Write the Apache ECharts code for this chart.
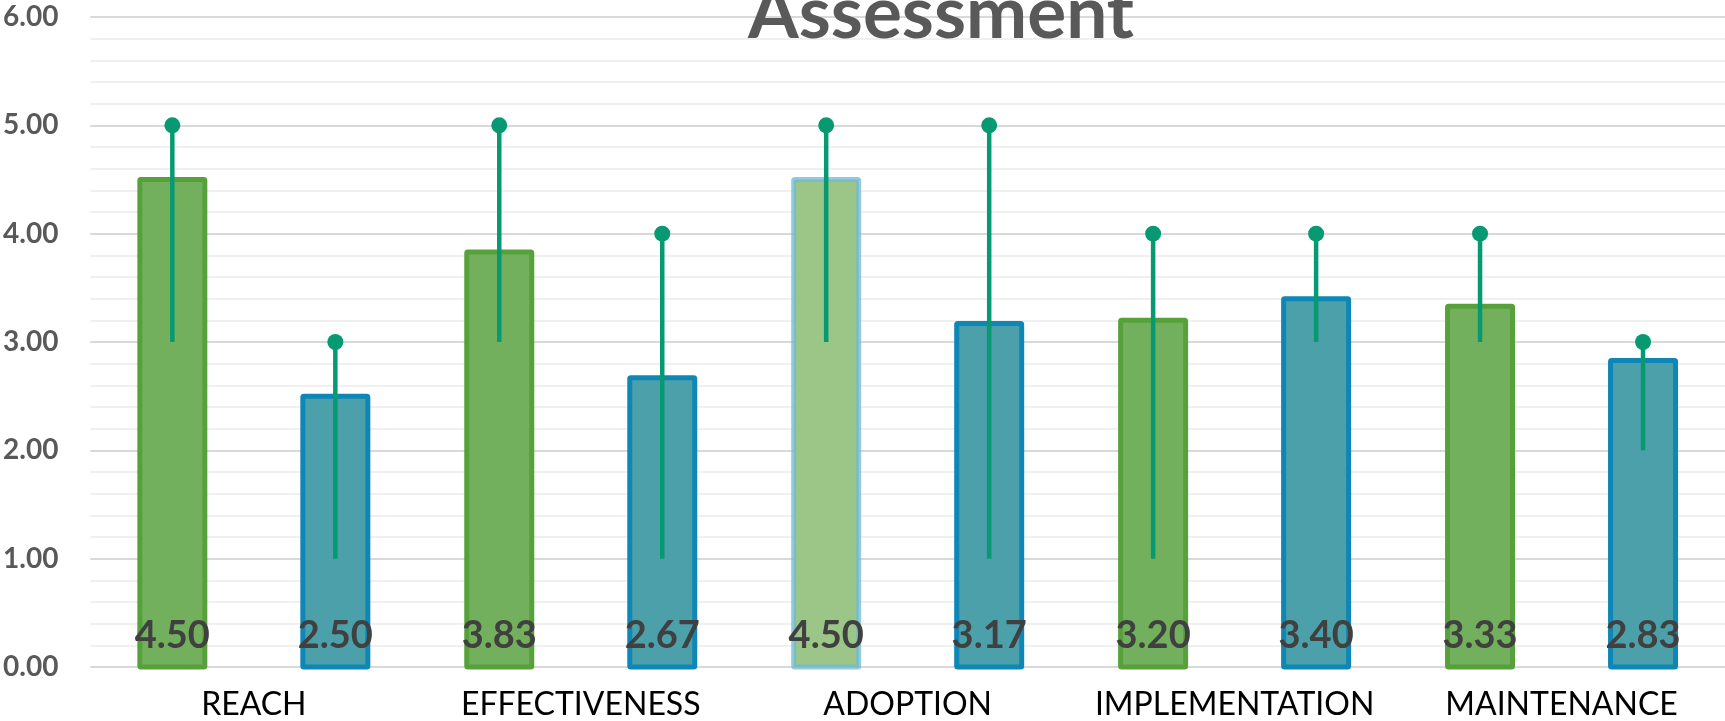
<!DOCTYPE html>
<html>
<head>
<meta charset="utf-8">
<title>Assessment</title>
<script src="https://cdn.jsdelivr.net/npm/echarts@6/dist/echarts.min.js"></script>
<style>
  html, body { margin: 0; padding: 0; background: #ffffff; }
  #chart { width: 1725px; height: 721px; }
</style>
</head>
<body>
<div id="chart"></div>
<script>
// Dimension scores (mean) with min / max range for two groups
const categories = ['REACH', 'EFFECTIVENESS', 'ADOPTION', 'IMPLEMENTATION', 'MAINTENANCE'];
const groupAMeans = [4.50, 3.83, 4.50, 3.20, 3.33];
const groupBMeans = [2.50, 2.67, 3.17, 3.40, 2.83];
const groupALow  = [3, 3, 3, 1, 3];
const groupAHigh = [5, 5, 5, 4, 4];
const groupBLow  = [1, 1, 1, 3, 2];
const groupBHigh = [3, 4, 5, 4, 3];
const yTicks = [0, 1, 2, 3, 4, 5, 6];

const FONT = 'Lato, "Open Sans", sans-serif';
const BAR_W = 70;          // outer width of a bar, border included
const BORDER_W = 5;
const HALF_OFFSET = 81.5;  // distance from category centre to each bar centre

const STYLE_A = { fill: '#73b05d', stroke: '#57a13b' };
const STYLE_A_SELECTED = { fill: '#9bc687', stroke: 'rgba(110,185,215,0.75)' };
const STYLE_B = { fill: '#4ba0aa', stroke: '#0f87b6' };

const chart = echarts.init(document.getElementById('chart'), null, { renderer: 'canvas' });

// Bars with a centred border, plus the value written near the base
function barSeries(name, means, side, styleFor) {
  return {
    name: name,
    type: 'custom',
    z: 2,
    data: means.map((v, i) => [i, v]),
    renderItem: function (params, api) {
      const i = api.value(0);
      const v = api.value(1);
      const base = api.coord([i, 0]);
      const top = api.coord([i, v]);
      const cx = base[0] + side * HALF_OFFSET;
      const w = BAR_W - BORDER_W;
      const st = styleFor(params.dataIndex);
      return {
        type: 'group',
        children: [
          {
            type: 'rect',
            shape: { x: cx - w / 2, y: top[1], width: w, height: base[1] - top[1], r: 1 },
            style: { fill: st.fill, stroke: st.stroke, lineWidth: BORDER_W, lineJoin: 'round' }
          },
          {
            type: 'text',
            x: cx,
            y: base[1] - 12.5,
            z2: 10,
            style: {
              text: v.toFixed(2),
              font: 'bold 38px ' + FONT,
              fill: '#404040',
              align: 'center',
              verticalAlign: 'bottom'
            }
          }
        ]
      };
    }
  };
}

// Min-max range: vertical stem with a dot at the maximum
function rangeSeries(name, lows, highs, side) {
  return {
    name: name,
    type: 'custom',
    z: 5,
    silent: true,
    data: lows.map((lo, i) => [i, lo, highs[i]]),
    renderItem: function (params, api) {
      const lo = api.coord([api.value(0), api.value(1)]);
      const hi = api.coord([api.value(0), api.value(2)]);
      const x = lo[0] + side * HALF_OFFSET;
      return {
        type: 'group',
        children: [
          { type: 'line', shape: { x1: x, y1: lo[1], x2: x, y2: hi[1] },
            style: { stroke: '#079a72', lineWidth: 4.5 } },
          { type: 'circle', shape: { cx: x, cy: hi[1], r: 8 },
            style: { fill: '#079a72' } }
        ]
      };
    }
  };
}

const option = {
  animation: false,
  backgroundColor: '#ffffff',
  grid: { left: 89, right: 0, top: 17, bottom: 52, containLabel: false },
  xAxis: {
    type: 'category',
    data: categories,
    axisLine: { show: false },
    axisTick: { show: false },
    axisLabel: { fontFamily: FONT, fontSize: 32, color: '#000000', margin: 22, interval: 0 },
    splitLine: { show: false }
  },
  yAxis: {
    type: 'value',
    min: yTicks[0],
    max: yTicks[yTicks.length - 1],
    interval: 1,
    axisLine: { show: false },
    axisTick: { show: false },
    axisLabel: {
      fontFamily: FONT, fontWeight: 'bold', fontSize: 28, color: '#595959', margin: 32,
      formatter: v => v.toFixed(2)
    },
    splitLine: { show: true, lineStyle: { color: '#d9d9d9', width: 2 } },
    minorTick: { show: false, splitNumber: 5 },
    minorSplitLine: { show: true, lineStyle: { color: '#f0f0f0', width: 2 } }
  },
  series: [
    barSeries('Group A', groupAMeans, -1, i => (i === 2 ? STYLE_A_SELECTED : STYLE_A)),
    barSeries('Group B', groupBMeans, 1, () => STYLE_B),
    rangeSeries('Group A range', groupALow, groupAHigh, -1),
    rangeSeries('Group B range', groupBLow, groupBHigh, 1)
  ],
  graphic: [
    {
      type: 'text',
      x: 941,
      y: 14,
      z: 10,
      style: {
        text: 'Assessment',
        font: 'bold 73px ' + FONT,
        fill: '#595959',
        align: 'center',
        verticalAlign: 'middle'
      }
    }
  ]
};

chart.setOption(option);
</script>
</body>
</html>
